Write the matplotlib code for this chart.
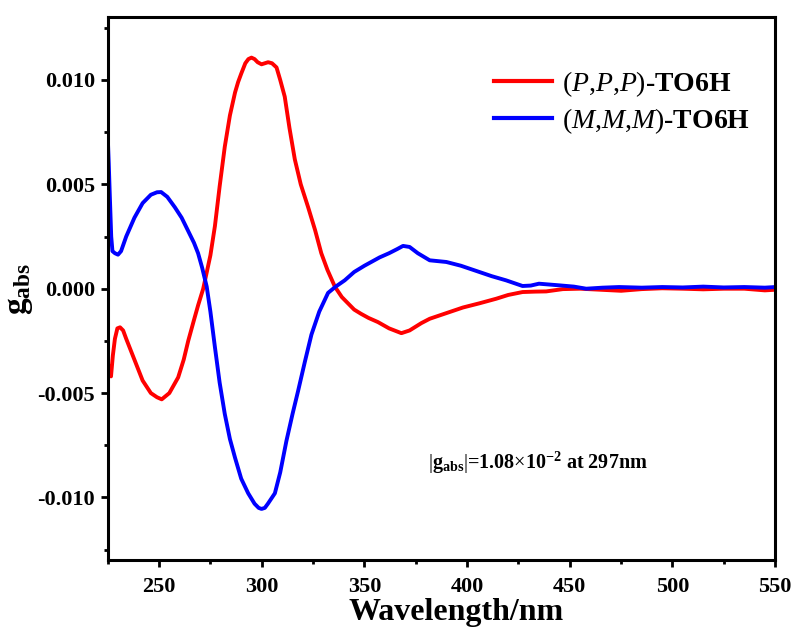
import matplotlib
matplotlib.use('Agg')
import matplotlib.pyplot as plt
from matplotlib.ticker import MultipleLocator, FormatStrFormatter

plt.rcParams['font.family'] = ['Liberation Serif', 'DejaVu Serif']
plt.rcParams['font.weight'] = 'bold'
plt.rcParams['mathtext.fontset'] = 'custom'
plt.rcParams['mathtext.rm'] = 'Liberation Serif:weight=normal'
plt.rcParams['mathtext.it'] = 'Liberation Serif:style=italic:weight=normal'
plt.rcParams['mathtext.bf'] = 'Liberation Serif:weight=bold'

# (M,M,M)-TO6H
blue_x = [225, 225.5, 226, 226.7, 227.3, 228.5, 230, 231.5, 234, 238, 242, 246, 249, 251, 254,
          257.7, 261, 264, 267, 269, 271, 273.2, 275, 277.2, 279.5, 282, 284.5, 287, 290, 293.4,
          296.5, 298.5, 299.9, 301.5, 303, 306.4, 309, 312, 315, 317.7, 321, 324.2, 328, 332.3,
          336, 340.4, 345, 350, 357.4, 362, 366, 368.8, 372, 376, 381.8, 389.9, 397, 406, 412,
          419, 427, 431, 435, 440, 445, 452, 458, 466, 474, 485, 495, 505, 515, 525, 535, 545,
          550]
blue_y = [0.0073, 0.0060, 0.0045, 0.0025, 0.0018, 0.0017, 0.00163, 0.0018, 0.0025, 0.0034,
          0.0041, 0.0045, 0.00462, 0.00463, 0.0044, 0.0039, 0.0034, 0.0028, 0.0022, 0.0017,
          0.0010, 0.0001, -0.0011, -0.0028, -0.0045, -0.0060, -0.0072, -0.0081, -0.0091,
          -0.0098, -0.0103, -0.0105, -0.01055, -0.0105, -0.0103, -0.0098, -0.0088, -0.0073,
          -0.0060, -0.0049, -0.0035, -0.0022, -0.0011, -0.0002, 0.0001, 0.0004, 0.0008, 0.0011,
          0.0015, 0.0017, 0.0019, 0.00205, 0.0020, 0.0017, 0.00136, 0.00128, 0.0011, 0.0008,
          0.0006, 0.0004, 0.00013, 0.00015, 0.00024, 0.0002, 0.00016, 0.0001, 0.0, 0.00005,
          0.00008, 0.00005, 0.00008, 0.00006, 0.0001, 0.00006, 0.00008, 0.00005, 0.00008]

# (P,P,P)-TO6H
red_x = [225, 225.8, 226.6, 227.5, 228.5, 229.7, 231, 232.5, 234, 238, 242, 246, 249, 251.3,
         255, 259.3, 262, 264.2, 267, 269, 271.5, 275, 277.2, 279.5, 282, 284.5, 287, 288.5,
         290, 292, 293.5, 295, 296.5, 298, 299.9, 301.5, 303.1, 305, 307.2, 309, 311.2, 313.5,
         316.1, 319, 322.6, 326, 329, 332, 335.6, 339, 342, 345, 348.3, 352, 356.6, 362, 368,
         372, 377.7, 381.8, 389, 398, 406, 414.2, 420, 427, 433, 438.5, 446.6, 455, 465, 475,
         485, 495, 505, 515, 525, 535, 545, 550]
red_y = [-0.0036, -0.0038, -0.0042, -0.0032, -0.0024, -0.0019, -0.00185, -0.0020, -0.0024,
         -0.0034, -0.0044, -0.0050, -0.0052, -0.0053, -0.0050, -0.00425, -0.0034, -0.0025,
         -0.0015, -0.0008, 0.0, 0.0016, 0.003, 0.0049, 0.0068, 0.0083, 0.0094, 0.0099, 0.0103,
         0.0108, 0.01100, 0.01107, 0.01100, 0.01085, 0.01075, 0.0108, 0.01085, 0.0108, 0.0106,
         0.0100, 0.0092, 0.0077, 0.0062, 0.0050, 0.0039, 0.0028, 0.0017, 0.0009, 0.0001,
         -0.0004, -0.0007, -0.0010, -0.0012, -0.0014, -0.0016, -0.0019, -0.00213, -0.0020,
         -0.00165, -0.00144, -0.0012, -0.0009, -0.0007, -0.00048, -0.0003, -0.00016, -0.00014,
         -0.00013, -0.00002, 0.0, -0.00005, -0.0001, -0.00002, 0.00002, 0.0, -0.00003, 0.0,
         0.0, -0.00008, -0.00005]

labels = [r'$(\mathit{P{,}P{,}P})$-TO6H', r'$(\mathit{M{,}M{,}M})$-TO6H']

fig = plt.figure(figsize=(7.95, 6.35), dpi=100)
ax = fig.add_axes([0.1355, 0.118, 0.8395, 0.8547])

ax.plot(red_x, red_y, color='#ff0000', lw=2.8, label=labels[0], solid_joinstyle='round')
ax.plot(blue_x, blue_y, color='#0000ff', lw=2.8, label=labels[1], solid_joinstyle='round')

ax.set_xlim(225, 550)
ax.set_ylim(-0.013, 0.013)
ax.xaxis.set_major_locator(MultipleLocator(50))
ax.xaxis.set_minor_locator(MultipleLocator(25))
ax.yaxis.set_major_locator(MultipleLocator(0.005))
ax.yaxis.set_minor_locator(MultipleLocator(0.0025))
ax.yaxis.set_major_formatter(FormatStrFormatter('%.3f'))

for s in ax.spines.values():
    s.set_linewidth(2.2)
ax.tick_params(which='major', direction='out', length=5, width=2, labelsize=16, pad=4)
ax.tick_params(axis='x', which='major', pad=7)
ax.tick_params(which='minor', direction='out', length=3, width=2)
for t in ax.get_xticklabels() + ax.get_yticklabels():
    t.set_fontweight('bold')

ax.set_xlabel('Wavelength/nm', fontsize=23, fontweight='bold', va='top')
ax.xaxis.set_label_coords(0.522, -0.07)
ax.set_ylabel(r'$\mathbf{g_{abs}}$', fontsize=24, labelpad=2)

leg = ax.legend(loc='upper left', bbox_to_anchor=(0.558, 0.93), frameon=False,
                prop={'size': 20, 'weight': 'bold'}, handlelength=2.1,
                handletextpad=0.36, labelspacing=0.25, borderpad=0)
for h in leg.get_lines():
    h.set_linewidth(3)

ax.text(0.48, 0.179, r'$|\mathbf{g_{abs}}|$=1.08$\times$10$^{\mathbf{-2}}$ at 297nm',
        transform=ax.transAxes, fontsize=14.5, fontweight='bold', va='center')

fig.savefig('out.png', dpi=100)
